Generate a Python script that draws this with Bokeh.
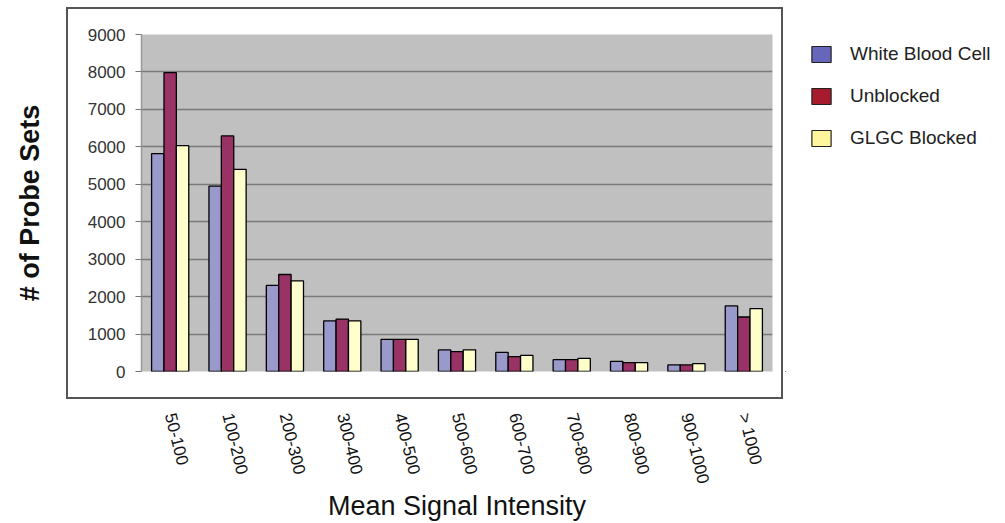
from bokeh.plotting import figure
from bokeh.models import (ColumnDataSource, FactorRange, Range1d, FixedTicker,
                          Legend, LegendItem, InlineStyleSheet)
from bokeh.layouts import row
from bokeh.transform import dodge
from bokeh.embed import file_html
from bokeh.resources import INLINE

categories = ["50-100", "100-200", "200-300", "300-400", "400-500", "500-600",
              "600-700", "700-800", "800-900", "900-1000", "> 1000"]
white_blood_cell = [5820, 4950, 2300, 1350, 860, 575, 510, 315, 270, 175, 1750]
unblocked = [7980, 6290, 2590, 1400, 860, 530, 395, 315, 235, 175, 1455]
glgc_blocked = [6030, 5400, 2420, 1350, 860, 580, 430, 350, 235, 210, 1680]
y_ticks = [0, 1000, 2000, 3000, 4000, 5000, 6000, 7000, 8000, 9000]
series_names = ["White Blood Cell", "Unblocked", "GLGC Blocked"]

FONT = "Liberation Sans"

src = ColumnDataSource(dict(cat=categories, wbc=white_blood_cell,
                            unb=unblocked, glgc=glgc_blocked))

# outer chart-area border (drawn by the page's stylesheet around the plot region)
border_css = InlineStyleSheet(css="""
:host { position: relative; }
:host::after {
  content: ""; position: absolute; left: 66px; top: 7px;
  width: 717px; height: 392px; border: 2px solid #555555;
  pointer-events: none;
}
""")

p = figure(width=785, height=523, x_range=FactorRange(factors=categories),
           y_range=Range1d(0, 9000), output_backend="svg", toolbar_location=None,
           min_border_left=141, min_border_right=13, min_border_top=34,
           min_border_bottom=151, stylesheets=[border_css])
p.background_fill_color = "#C0C0C0"
p.border_fill_color = "white"
p.outline_line_color = None

bw = 0.216
bar_kw = dict(line_color="black", line_width=1.3)
p.vbar(x=dodge("cat", -bw, range=p.x_range), top="wbc", width=bw, source=src,
       fill_color="#9999CC", **bar_kw)
p.vbar(x=dodge("cat", 0, range=p.x_range), top="unb", width=bw, source=src,
       fill_color="#993366", **bar_kw)
p.vbar(x=dodge("cat", bw, range=p.x_range), top="glgc", width=bw, source=src,
       fill_color="#FFFFCC", **bar_kw)

# y axis
p.yaxis.ticker = FixedTicker(ticks=y_ticks)
p.yaxis.minor_tick_line_color = None
p.yaxis.major_tick_in = 0
p.yaxis.major_tick_out = 6
p.yaxis.major_tick_line_color = "#777777"
p.yaxis.axis_line_color = "#999999"
p.yaxis.axis_line_width = 1.5
p.yaxis.major_label_text_font = FONT
p.yaxis.major_label_text_font_size = "17px"
p.yaxis.major_label_text_color = "#333333"
p.yaxis.major_label_standoff = 10
p.yaxis.axis_label = "# of Probe Sets"
p.yaxis.axis_label_text_font = FONT
p.yaxis.axis_label_text_font_style = "bold"
p.yaxis.axis_label_text_font_size = "27px"
p.yaxis.axis_label_text_color = "#111111"
p.yaxis.axis_label_standoff = 40

# x axis
p.xaxis.axis_line_color = None
p.xaxis.major_tick_line_color = None
p.xaxis.minor_tick_line_color = None
p.xaxis.major_label_orientation = -1.33
p.xaxis.major_label_text_font = FONT
p.xaxis.major_label_text_font_size = "17px"
p.xaxis.major_label_text_color = "#111111"
p.xaxis.major_label_standoff = 36
p.xaxis.axis_label = "Mean Signal Intensity"
p.xaxis.axis_label_text_font = FONT
p.xaxis.axis_label_text_font_style = "normal"
p.xaxis.axis_label_text_font_size = "27px"
p.xaxis.axis_label_text_color = "#111111"
p.xaxis.axis_label_standoff = 0

p.xgrid.grid_line_color = None
p.ygrid.grid_line_color = "#7A7A7A"
p.ygrid.grid_line_width = 1.5

# legend panel (legend swatches use their own, brighter palette)
lg = figure(width=220, height=523, x_range=Range1d(0, 1), y_range=Range1d(0, 1),
            output_backend="svg", toolbar_location=None, x_axis_type=None,
            y_axis_type=None, min_border_left=0, min_border_right=0,
            min_border_top=5, min_border_bottom=0)
lg.outline_line_color = None
lg.grid.grid_line_color = None
legend_colors = ["#6666BB", "#A61C2E", "#FFF59D"]
items = []
for name, col in zip(series_names, legend_colors):
    r = lg.vbar(x=[-5], top=[-5], bottom=[-6], width=0.1, fill_color=col,
                line_color="#222222", line_width=1.2)
    items.append(LegendItem(label=name, renderers=[r]))
legend = Legend(items=items, location=(24, 222), padding=0, margin=0, spacing=20,
                glyph_width=24, glyph_height=20, label_standoff=17,
                label_text_font=FONT, label_text_font_size="19px",
                label_text_color="#222222", border_line_color=None,
                background_fill_alpha=0)
lg.add_layout(legend, "center")

layout = row(p, lg)
open("out.html", "w").write(file_html(layout, INLINE))
